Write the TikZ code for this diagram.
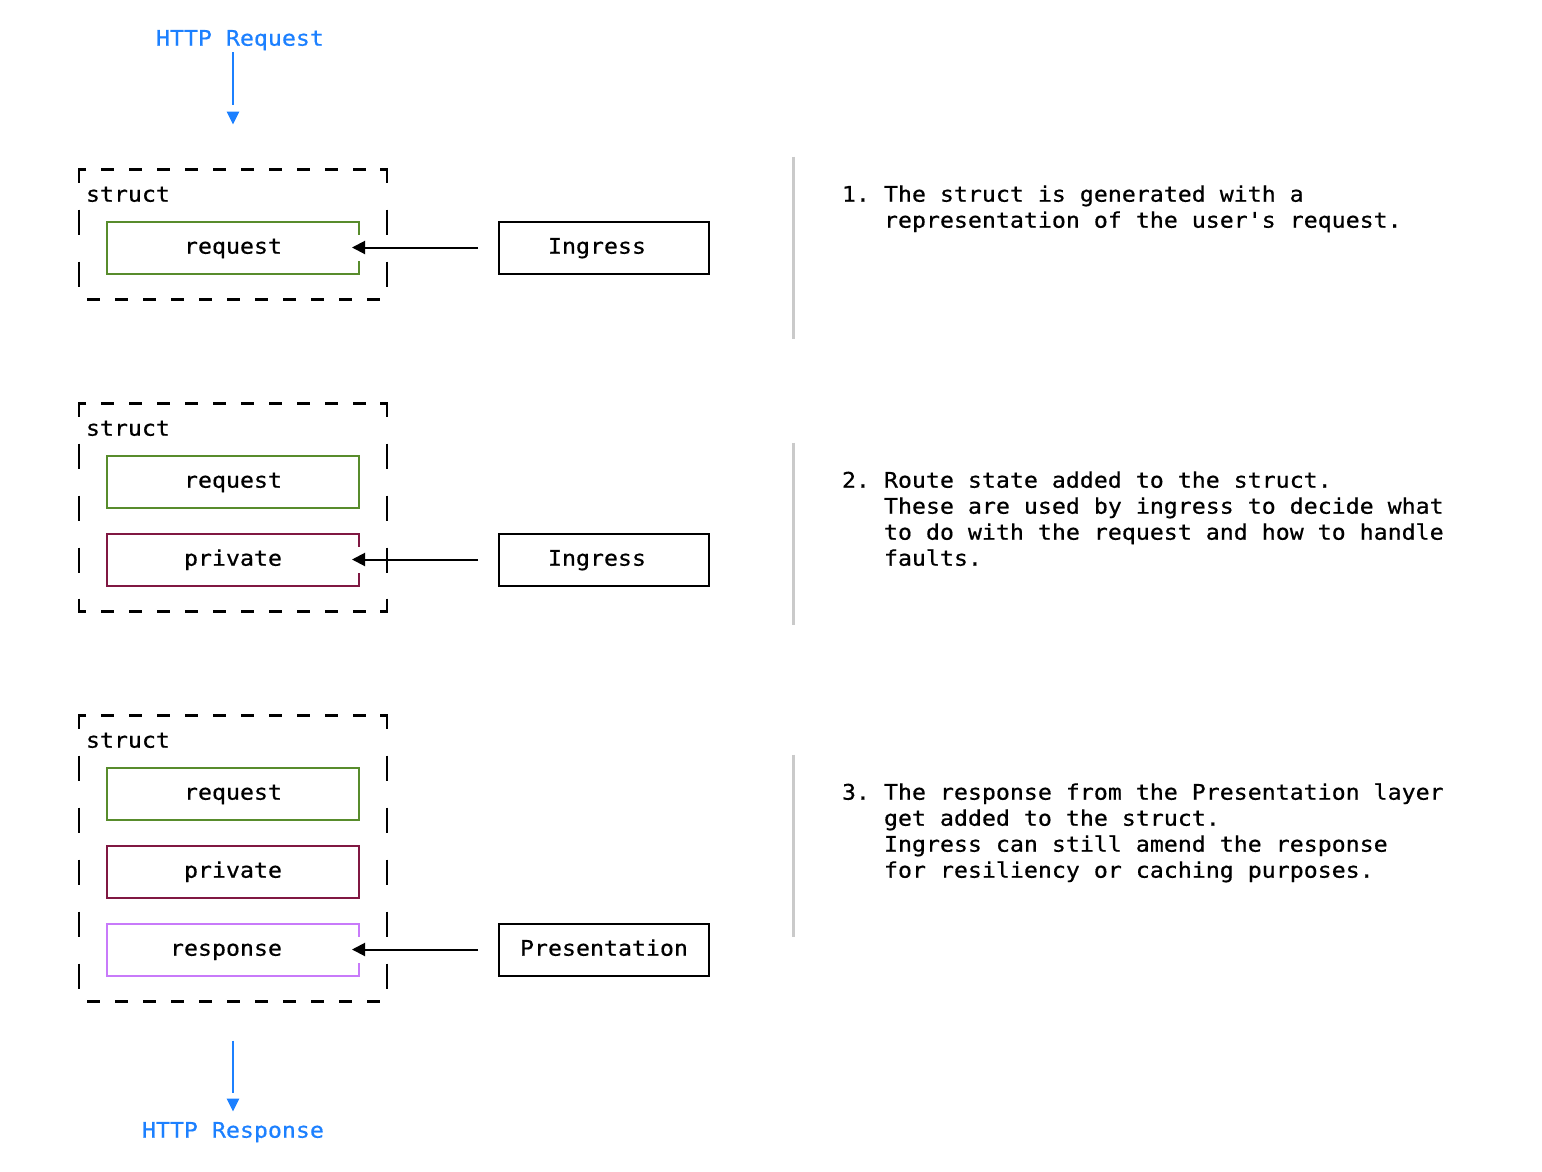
\documentclass[tikz,border=0pt]{standalone}
\usepackage{fontspec}
\setmonofont[FakeStretch=1.081, FakeBold=0.6]{DejaVu Sans Mono}
\usetikzlibrary{arrows.meta,calc}
\definecolor{reqgreen}{RGB}{88,140,44}
\definecolor{privred}{RGB}{128,24,66}
\definecolor{resppurple}{RGB}{200,122,250}
\definecolor{httpblue}{RGB}{28,128,255}
\definecolor{divgray}{RGB}{202,202,202}
\begin{document}
\begin{tikzpicture}[x=1pt,y=-1pt,
  every node/.style={font=\ttfamily\fontsize{21.5pt}{26pt}\selectfont},
  txt/.style={anchor=west, inner sep=0pt, outer sep=0pt, text height=16.4pt, text depth=4pt},
  cellbox/.style={rectangle, draw, line width=2pt, minimum width=252pt, minimum height=52pt,
    inner sep=0pt, outer sep=0pt, text height=16.4pt, text depth=4pt},
  layerbox/.style={cellbox, minimum width=210pt},
  structline/.style={line width=2.5pt, black, line join=miter},
  conn/.style={line width=2pt, black, -{Triangle[length=13pt,width=13pt]},
    shorten <=21pt},
  gap/.style={white, line width=4pt},
  blueline/.style={line width=2pt, httpblue},
  divider/.style={line width=3pt, divgray}]
\useasboundingbox (0,0) rectangle (1542,1172);

% ---------- HTTP request ----------
\node[txt, text=httpblue] (httpreq) at (156,39.5) {HTTP Request};
\coordinate (qa) at (233,52.5);
\coordinate (qb) at (233,104.5);
\draw[blueline] (qa) -- (qb);
\fill[httpblue] (226.7,111.7) -- (239.3,111.7) -- (233,124.3) -- cycle;

% ---------- Box 1 ----------
\draw[structline] (86,169.5) -- (79,169.5) -- (79,182.5);
\draw[structline] (380,169.5) -- (387,169.5) -- (387,182.5);
\foreach \c in {2,4,...,20} \draw[structline] ({73+14*\c},169.5) -- ++(12.5,0);
\foreach \r in {2,4} {
  \draw[structline] (79,{157.5+26*\r}) -- ++(0,25);
  \draw[structline] (387,{157.5+26*\r}) -- ++(0,25);
}
\foreach \c in {1,3,...,21} \draw[structline] ({73+14*\c},299.5) -- ++(12.5,0);
\node[txt] (s1) at (86,195.5) {struct};
\node[cellbox, draw=reqgreen] (req1) at (233,247.5) {request};
\node[layerbox] (ing1) at (604,247.5) {Ingress\phantom{x}};
\draw[gap] ($(req1.east)+(0,-13)$) -- ($(req1.east)+(0,13)$);
\draw[conn] (ing1) -- ($(req1.east)+(-7,0)$);

% ---------- Box 2 ----------
\draw[structline] (86,403.5) -- (79,403.5) -- (79,416.5);
\draw[structline] (380,403.5) -- (387,403.5) -- (387,416.5);
\foreach \c in {2,4,...,20} \draw[structline] ({73+14*\c},403.5) -- ++(12.5,0);
\foreach \r in {11,13,15} {
  \draw[structline] (79,{157.5+26*\r}) -- ++(0,25);
  \draw[structline] (387,{157.5+26*\r}) -- ++(0,25);
}
\draw[structline] (79,598.5) -- (79,611.5) -- (86,611.5);
\draw[structline] (387,598.5) -- (387,611.5) -- (380,611.5);
\foreach \c in {2,4,...,20} \draw[structline] ({73+14*\c},611.5) -- ++(12.5,0);
\node[txt] (s2) at (86,429.5) {struct};
\node[cellbox, draw=reqgreen] (req2) at (233,481.5) {request};
\node[cellbox, draw=privred] (priv2) at (233,559.5) {private};
\node[layerbox] (ing2) at (604,559.5) {Ingress\phantom{x}};
\draw[gap] ($(priv2.east)+(0,-13)$) -- ($(priv2.east)+(0,13)$);
\draw[conn] (ing2) -- ($(priv2.east)+(-7,0)$);

% ---------- Box 3 ----------
\draw[structline] (86,715.5) -- (79,715.5) -- (79,728.5);
\draw[structline] (380,715.5) -- (387,715.5) -- (387,728.5);
\foreach \c in {2,4,...,20} \draw[structline] ({73+14*\c},715.5) -- ++(12.5,0);
\foreach \r in {23,25,27,29,31} {
  \draw[structline] (79,{157.5+26*\r}) -- ++(0,25);
  \draw[structline] (387,{157.5+26*\r}) -- ++(0,25);
}
\foreach \c in {1,3,...,21} \draw[structline] ({73+14*\c},1001.5) -- ++(12.5,0);
\node[txt] (s3) at (86,741.5) {struct};
\node[cellbox, draw=reqgreen] (req3) at (233,793.5) {request};
\node[cellbox, draw=privred] (priv3) at (233,871.5) {private};
\node[cellbox, draw=resppurple] (resp3) at (233,949.5) {response\phantom{x}};
\node[layerbox] (pres3) at (604,949.5) {Presentation};
\draw[gap] ($(resp3.east)+(0,-13)$) -- ($(resp3.east)+(0,13)$);
\draw[conn] (pres3) -- ($(resp3.east)+(-7,0)$);

% ---------- HTTP response ----------
\coordinate (ra) at (233,1040.5);
\coordinate (rb) at (233,1092.5);
\draw[blueline] (ra) -- (rb);
\fill[httpblue] (226.7,1098.7) -- (239.3,1098.7) -- (233,1111.3) -- cycle;
\node[txt, text=httpblue] (httpresp) at (142,1131.5) {HTTP Response};

% ---------- dividers ----------
\draw[divider] (793,156.5) -- (793,338.5);
\draw[divider] (793,442.5) -- (793,624.5);
\draw[divider] (793,754.5) -- (793,936.5);

% ---------- descriptions ----------
\node[txt] (d1a) at (842,195.5) {1. The struct is generated with a};
\node[txt] (d1b) at (884,221.5) {representation of the user's request.};
\node[txt] (d2a) at (842,481.5) {2. Route state added to the struct.};
\node[txt] (d2b) at (884,507.5) {These are used by ingress to decide what};
\node[txt] (d2c) at (884,533.5) {to do with the request and how to handle};
\node[txt] (d2d) at (884,559.5) {faults.};
\node[txt] (d3a) at (842,793.5) {3. The response from the Presentation layer};
\node[txt] (d3b) at (884,819.5) {get added to the struct.};
\node[txt] (d3c) at (884,845.5) {Ingress can still amend the response};
\node[txt] (d3d) at (884,871.5) {for resiliency or caching purposes.};
\end{tikzpicture}
\end{document}
